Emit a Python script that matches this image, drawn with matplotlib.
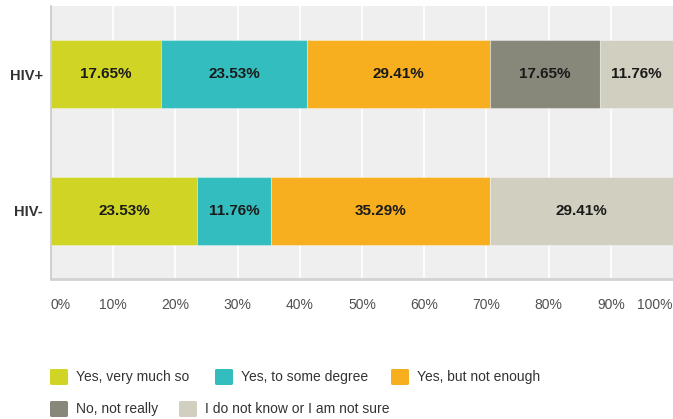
import matplotlib
matplotlib.use("Agg")
import matplotlib.pyplot as plt
from matplotlib.patches import FancyBboxPatch
import numpy as np

categories = ["HIV-", "HIV+"]
series_names = ["Yes, very much so", "Yes, to some degree", "Yes, but not enough",
                "No, not really", "I do not know or I am not sure"]
colors = ["#CFD425", "#33BDBE", "#F7AF1F", "#87887A", "#D0CFC0"]
# values per series for [HIV-, HIV+]
very_much = [23.53, 17.65]
some_degree = [11.76, 23.53]
not_enough = [35.29, 29.41]
not_really = [0.0, 17.65]
not_sure = [29.41, 11.76]
series_values = [very_much, some_degree, not_enough, not_really, not_sure]
xticks = [0, 10, 20, 30, 40, 50, 60, 70, 80, 90, 100]
xtick_labels = [f"{t}%" for t in xticks]

FAM = ["Liberation Sans", "DejaVu Sans"]
plt.rcParams["font.family"] = FAM

W, H = 673, 419
fig = plt.figure(figsize=(W / 100, H / 100), dpi=100)
ax = fig.add_axes([51 / W, 1 - 279 / H, (673 - 51) / W, (279 - 6) / H])
ax.set_facecolor("#EFEFEF")
ax.set_xlim(0, 100)
ax.set_ylim(-0.5, 1.5)

for t in xticks[1:-1]:
    ax.axvline(t, color="white", lw=1.2, zorder=1)

y = np.arange(len(categories))
left = np.zeros(len(categories))
for name, vals, c in zip(series_names, series_values, colors):
    vals = np.array(vals)
    ax.barh(y, vals, left=left, height=0.5, color=c, edgecolor=(1, 1, 1, 0.35),
            linewidth=0.8, zorder=2)
    for yi, v, l in zip(y, vals, left):
        if v > 0:
            ax.text(l + v / 2, yi, f"{v:.2f}%", ha="center", va="center",
                    fontsize=11, fontweight="bold", color="#1a1a1a", zorder=3)
    left = left + vals

for s in ["top", "right"]:
    ax.spines[s].set_visible(False)
ax.spines["left"].set_color("#C8C8C8")
ax.spines["left"].set_linewidth(1.2)
ax.spines["bottom"].set_color("#D2D2D2")
ax.spines["bottom"].set_linewidth(2)

ax.set_yticks(y)
ax.set_yticklabels(categories, fontsize=10.5, fontweight="bold", color="#333333")
ax.tick_params(axis="y", length=0, pad=6)
ax.set_xticks(xticks)
ax.set_xticklabels(xtick_labels, fontsize=10, color="#505050")
ax.tick_params(axis="x", length=0, pad=14)
lbls = ax.get_xticklabels()
lbls[0].set_ha("left")
lbls[-1].set_ha("right")

# legend (flowing layout)
rows = [[0, 1, 2], [3, 4]]
row_y = [377, 409]
x_starts = [[50, 215, 391], [50, 179]]
for r, idxs in enumerate(rows):
    for k, i in enumerate(idxs):
        x0 = x_starts[r][k]
        yc = row_y[r]
        p = FancyBboxPatch(((x0) / W, 1 - (yc + 8) / H), 18 / W, 16 / H,
                           boxstyle="round,pad=0,rounding_size=0.003",
                           transform=fig.transFigure, facecolor=colors[i],
                           edgecolor="none")
        fig.patches.append(p)
        fig.text((x0 + 26) / W, 1 - yc / H, series_names[i], ha="left", va="center",
                 fontsize=10, color="#333333")

fig.savefig("out.png", dpi=100)
